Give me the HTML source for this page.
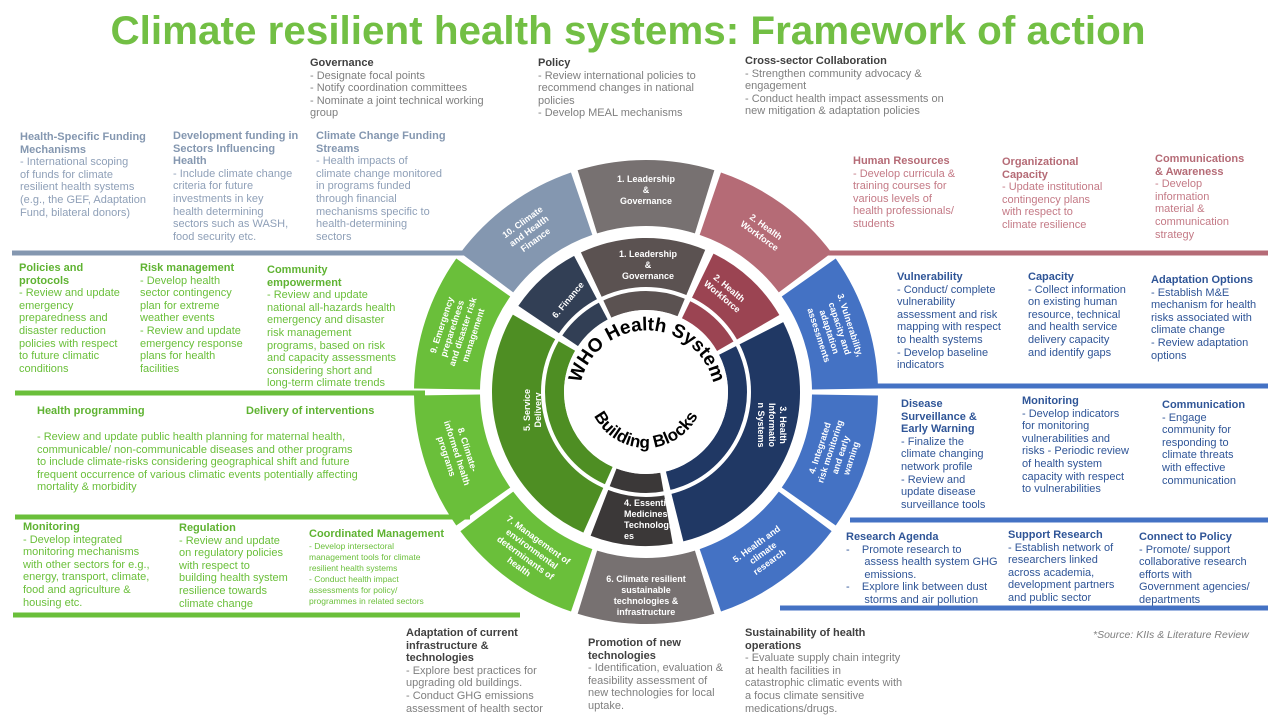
<!DOCTYPE html>
<html><head><meta charset="utf-8">
<style>
body{margin:0;width:1280px;height:720px;background:#fff;position:relative;overflow:hidden;font-family:"Liberation Sans",sans-serif;}
.t{position:absolute;font-size:11px;line-height:12.6px;white-space:nowrap;}
.t b{font-weight:bold;}
.g{color:#7f7f7f}.g b{color:#404040}
.bg{color:#8fa0b8}.bg b{color:#8497b0}
.gr{color:#6abf3a}.gr b{color:#5fb332}
.pk{color:#c47a86}.pk b{color:#b56b76}
.bl{color:#2f5597}.bl b{color:#2f5597}
svg{position:absolute;left:0;top:0}
</style></head><body>
<svg width="1280" height="720" viewBox="0 0 1280 720">
<text x="628" y="44" text-anchor="middle" font-family="Liberation Sans" font-weight="bold" font-size="40" fill="#72bf44" textLength="1035" lengthAdjust="spacingAndGlyphs">Climate resilient health systems: Framework of action</text>
<!-- band lines -->
<g stroke-width="5">
<line x1="12" y1="253" x2="480" y2="253" stroke="#8497b0"/>
<line x1="15" y1="393" x2="425" y2="393" stroke="#6abf3a"/>
<line x1="15" y1="517" x2="470" y2="517" stroke="#6abf3a"/>
<line x1="13" y1="615" x2="520" y2="615" stroke="#6abf3a"/>
<line x1="810" y1="253" x2="1268" y2="253" stroke="#b56b76"/>
<line x1="870" y1="386" x2="1268" y2="386" stroke="#4472c4"/>
<line x1="850" y1="520" x2="1268" y2="520" stroke="#4472c4"/>
<line x1="780" y1="608" x2="1268" y2="608" stroke="#4472c4"/>
</g>
<!-- outer ring -->
<g fill="none" stroke-width="66">
<circle cx="646" cy="392" r="199" stroke="#777171" stroke-dasharray="119 2000" transform="rotate(-107.14 646 392)"/>
<circle cx="646" cy="392" r="199" stroke="#b56b76" stroke-dasharray="119 2000" transform="rotate(-71.14 646 392)"/>
<circle cx="646" cy="392" r="199" stroke="#4472c4" stroke-dasharray="119 2000" transform="rotate(-35.14 646 392)"/>
<circle cx="646" cy="392" r="199" stroke="#4472c4" stroke-dasharray="119 2000" transform="rotate(0.86 646 392)"/>
<circle cx="646" cy="392" r="199" stroke="#4472c4" stroke-dasharray="119 2000" transform="rotate(36.86 646 392)"/>
<circle cx="646" cy="392" r="199" stroke="#777171" stroke-dasharray="119 2000" transform="rotate(72.86 646 392)"/>
<circle cx="646" cy="392" r="199" stroke="#6abf3a" stroke-dasharray="119 2000" transform="rotate(108.86 646 392)"/>
<circle cx="646" cy="392" r="199" stroke="#6abf3a" stroke-dasharray="119 2000" transform="rotate(144.86 646 392)"/>
<circle cx="646" cy="392" r="199" stroke="#6abf3a" stroke-dasharray="119 2000" transform="rotate(180.86 646 392)"/>
<circle cx="646" cy="392" r="199" stroke="#8497b0" stroke-dasharray="119 2000" transform="rotate(216.86 646 392)"/>
</g>
<!-- inner ring -->
<g fill="none" stroke-width="72">
<circle cx="646" cy="392" r="118" stroke="#5b5251" stroke-dasharray="98 2000" transform="rotate(-115 646 392)"/>
<circle cx="646" cy="392" r="118" stroke="#9b4452" stroke-dasharray="70 2000" transform="rotate(-64 646 392)"/>
<circle cx="646" cy="392" r="118" stroke="#203864" stroke-dasharray="212 2000" transform="rotate(-27 646 392)"/>
<circle cx="646" cy="392" r="118" stroke="#3b3838" stroke-dasharray="64 2000" transform="rotate(80 646 392)"/>
<circle cx="646" cy="392" r="118" stroke="#4e8e23" stroke-dasharray="198 2000" transform="rotate(114 646 392)"/>
<circle cx="646" cy="392" r="118" stroke="#323f55" stroke-dasharray="58 2000" transform="rotate(214 646 392)"/>
</g>
<circle cx="646" cy="392" r="103" fill="none" stroke="#fff" stroke-width="4"/>
<circle cx="646" cy="392" r="82" fill="#fff"/>
<defs>
<path id="arcT" d="M 580 410 A 68 68 0 1 1 714 410"/>
<path id="arcB" d="M 590 405 A 58 58 0 0 0 702 405"/>
</defs>
<text font-family="Liberation Sans" font-weight="bold" font-size="19" fill="#000"><textPath href="#arcT" startOffset="50%" text-anchor="middle">WHO Health System</textPath></text>
<text font-family="Liberation Sans" font-weight="bold" font-size="17" fill="#000"><textPath href="#arcB" startOffset="50%" text-anchor="middle">Building Blocks</textPath></text>
<!-- outer labels -->
<g font-family="Liberation Sans" font-weight="bold" font-size="9" fill="#fff" text-anchor="middle">
<text transform="translate(646 182)"><tspan x="0" dy="0">1. Leadership</tspan><tspan x="0" dy="11">&amp;</tspan><tspan x="0" dy="11">Governance</tspan></text>
<text transform="translate(763 231) rotate(36)"><tspan x="0" dy="-2">2. Health</tspan><tspan x="0" dy="11">Workforce</tspan></text>
<text transform="translate(835 330) rotate(72)"><tspan x="0" dy="-13">3. Vulnerability,</tspan><tspan x="0" dy="11">capacity and</tspan><tspan x="0" dy="11">adaptation</tspan><tspan x="0" dy="11">assessments</tspan></text>
<text transform="translate(835 453) rotate(-72)"><tspan x="0" dy="-13">4. Integrated</tspan><tspan x="0" dy="11">risk monitoring</tspan><tspan x="0" dy="11">and early</tspan><tspan x="0" dy="11">warning</tspan></text>
<text transform="translate(763 553) rotate(-36)"><tspan x="0" dy="-8">5. Health and</tspan><tspan x="0" dy="11">climate</tspan><tspan x="0" dy="11">research</tspan></text>
<text transform="translate(646 582)"><tspan x="0" dy="0">6. Climate resilient</tspan><tspan x="0" dy="11">sustainable</tspan><tspan x="0" dy="11">technologies &amp;</tspan><tspan x="0" dy="11">infrastructure</tspan></text>
<text transform="translate(529 553) rotate(36)"><tspan x="0" dy="-13">7. Management of</tspan><tspan x="0" dy="11">environmental</tspan><tspan x="0" dy="11">determinants of</tspan><tspan x="0" dy="11">health</tspan></text>
<text transform="translate(457 453) rotate(72)"><tspan x="0" dy="-8">8. Climate-</tspan><tspan x="0" dy="11">informed health</tspan><tspan x="0" dy="11">programs</tspan></text>
<text transform="translate(457 330) rotate(-72)"><tspan x="0" dy="-13">9. Emergency</tspan><tspan x="0" dy="11">preparedness</tspan><tspan x="0" dy="11">and disaster risk</tspan><tspan x="0" dy="11">management</tspan></text>
<text transform="translate(529 231) rotate(-36)"><tspan x="0" dy="-8">10. Climate</tspan><tspan x="0" dy="11">and Health</tspan><tspan x="0" dy="11">Finance</tspan></text>
<!-- inner labels -->
<text transform="translate(648 257)"><tspan x="0" dy="0">1. Leadership</tspan><tspan x="0" dy="11">&amp;</tspan><tspan x="0" dy="11">Governance</tspan></text>
<text transform="translate(726 292) rotate(40)"><tspan x="0" dy="-2">2. Health</tspan><tspan x="0" dy="11">Workforce</tspan></text>
<text transform="translate(772 425) rotate(90)"><tspan x="0" dy="-8">3. Health</tspan><tspan x="0" dy="11">Informatio</tspan><tspan x="0" dy="11">n Systems</tspan></text>
<text transform="translate(532 410) rotate(-90)"><tspan x="0" dy="-2">5. Service</tspan><tspan x="0" dy="11">Delivery</tspan></text>
<text transform="translate(568 300) rotate(-50)"><tspan x="0" dy="3">6. Finance</tspan></text>
<text transform="translate(624 506)" text-anchor="start"><tspan x="0" dy="0">4. Essential</tspan><tspan x="0" dy="11">Medicines &amp;</tspan><tspan x="0" dy="11">Technologi</tspan><tspan x="0" dy="11">es</tspan></text>
</g>
</svg>

<div class="t g" style="left:310px;top:57px"><b>Governance</b><br>- Designate focal points<br>- Notify coordination committees<br>- Nominate a joint technical working<br>group</div>
<div class="t g" style="left:538px;top:57px"><b>Policy</b><br>- Review international policies to<br>recommend changes in national<br>policies<br>- Develop MEAL mechanisms</div>
<div class="t g" style="left:745px;top:55px"><b>Cross-sector Collaboration</b><br>- Strengthen community advocacy &amp;<br>engagement<br>- Conduct health impact assessments on<br>new mitigation &amp; adaptation policies</div>

<div class="t bg" style="left:20px;top:131px"><b>Health-Specific Funding<br>Mechanisms</b><br>- International scoping<br>of funds for climate<br>resilient health systems<br>(e.g., the GEF, Adaptation<br>Fund, bilateral donors)</div>
<div class="t bg" style="left:173px;top:130px"><b>Development funding in<br>Sectors Influencing<br>Health</b><br>- Include climate change<br>criteria for future<br>investments in key<br>health determining<br>sectors such as WASH,<br>food security etc.</div>
<div class="t bg" style="left:316px;top:130px"><b>Climate Change Funding<br>Streams</b><br>- Health impacts of<br>climate change monitored<br>in programs funded<br>through financial<br>mechanisms specific to<br>health-determining<br>sectors</div>

<div class="t gr" style="left:19px;top:262px"><b>Policies and<br>protocols</b><br>- Review and update<br>emergency<br>preparedness and<br>disaster reduction<br>policies with respect<br>to future climatic<br>conditions</div>
<div class="t gr" style="left:140px;top:262px"><b>Risk management</b><br>- Develop health<br>sector contingency<br>plan for extreme<br>weather events<br>- Review and update<br>emergency response<br>plans for health<br>facilities</div>
<div class="t gr" style="left:267px;top:264px"><b>Community<br>empowerment</b><br>- Review and update<br>national all-hazards health<br>emergency and disaster<br>risk management<br>programs, based on risk<br>and capacity assessments<br>considering short and<br>long-term climate trends</div>

<div class="t gr" style="left:37px;top:405px"><b>Health programming</b></div>
<div class="t gr" style="left:246px;top:405px"><b>Delivery of interventions</b></div>
<div class="t gr" style="left:37px;top:431px">- Review and update public health planning for maternal health,<br>communicable/ non-communicable diseases and other programs<br>to include climate-risks considering geographical shift and future<br>frequent occurrence of various climatic events potentially affecting<br>mortality &amp; morbidity</div>

<div class="t gr" style="left:23px;top:521px"><b>Monitoring</b><br>- Develop integrated<br>monitoring mechanisms<br>with other sectors for e.g.,<br>energy, transport, climate,<br>food and agriculture &amp;<br>housing etc.</div>
<div class="t gr" style="left:179px;top:522px"><b>Regulation</b><br>- Review and update<br>on regulatory policies<br>with respect to<br>building health system<br>resilience towards<br>climate change</div>
<div class="t gr" style="left:309px;top:528px;font-size:11px"><b>Coordinated Management</b></div>
<div class="t gr" style="left:309px;top:541px;font-size:8.5px;line-height:11px">- Develop intersectoral<br>management tools for climate<br>resilient health systems<br>- Conduct health impact<br>assessments for policy/<br>programmes in related sectors</div>

<div class="t g" style="left:406px;top:627px"><b>Adaptation of current<br>infrastructure &amp;<br>technologies</b><br>- Explore best practices for<br>upgrading old buildings.<br>- Conduct GHG emissions<br>assessment of health sector</div>
<div class="t g" style="left:588px;top:637px"><b>Promotion of new<br>technologies</b><br>- Identification, evaluation &amp;<br>feasibility assessment of<br>new technologies for local<br>uptake.</div>
<div class="t g" style="left:745px;top:627px"><b>Sustainability of health<br>operations</b><br>- Evaluate supply chain integrity<br>at health facilities in<br>catastrophic climatic events with<br>a focus climate sensitive<br>medications/drugs.</div>

<div class="t pk" style="left:853px;top:155px"><b>Human Resources</b><br>- Develop curricula &amp;<br>training courses for<br>various levels of<br>health professionals/<br>students</div>
<div class="t pk" style="left:1002px;top:156px"><b>Organizational<br>Capacity</b><br>- Update institutional<br>contingency plans<br>with respect to<br>climate resilience</div>
<div class="t pk" style="left:1155px;top:153px"><b>Communications<br>&amp; Awareness</b><br>- Develop<br>information<br>material &amp;<br>communication<br>strategy</div>

<div class="t bl" style="left:897px;top:271px"><b>Vulnerability</b><br>- Conduct/ complete<br>vulnerability<br>assessment and risk<br>mapping with respect<br>to health systems<br>- Develop baseline<br>indicators</div>
<div class="t bl" style="left:1028px;top:271px"><b>Capacity</b><br>- Collect information<br>on existing human<br>resource, technical<br>and health service<br>delivery capacity<br>and identify gaps</div>
<div class="t bl" style="left:1151px;top:274px"><b>Adaptation Options</b><br>- Establish M&amp;E<br>mechanism for health<br>risks associated with<br>climate change<br>- Review adaptation<br>options</div>

<div class="t bl" style="left:901px;top:398px"><b>Disease<br>Surveillance &amp;<br>Early Warning</b><br>- Finalize the<br>climate changing<br>network profile<br>- Review and<br>update disease<br>surveillance tools</div>
<div class="t bl" style="left:1022px;top:395px"><b>Monitoring</b><br>- Develop indicators<br>for monitoring<br>vulnerabilities and<br>risks - Periodic review<br>of health system<br>capacity with respect<br>to vulnerabilities</div>
<div class="t bl" style="left:1162px;top:399px"><b>Communication</b><br>- Engage<br>community for<br>responding to<br>climate threats<br>with effective<br>communication</div>

<div class="t bl" style="left:846px;top:531px"><b>Research Agenda</b><br>-&nbsp;&nbsp;&nbsp;&nbsp;Promote research to<br>&nbsp;&nbsp;&nbsp;&nbsp;&nbsp;&nbsp;assess health system GHG<br>&nbsp;&nbsp;&nbsp;&nbsp;&nbsp;&nbsp;emissions.<br>-&nbsp;&nbsp;&nbsp;&nbsp;Explore link between dust<br>&nbsp;&nbsp;&nbsp;&nbsp;&nbsp;&nbsp;storms and air pollution</div>
<div class="t bl" style="left:1008px;top:529px"><b>Support Research</b><br>- Establish network of<br>researchers linked<br>across academia,<br>development partners<br>and public sector</div>
<div class="t bl" style="left:1139px;top:531px"><b>Connect to Policy</b><br>- Promote/ support<br>collaborative research<br>efforts with<br>Government agencies/<br>departments</div>

<div class="t" style="left:1093px;top:629px;color:#7f7f7f;font-style:italic;font-size:10.5px">*Source: KIIs &amp; Literature Review</div>
</body></html>
